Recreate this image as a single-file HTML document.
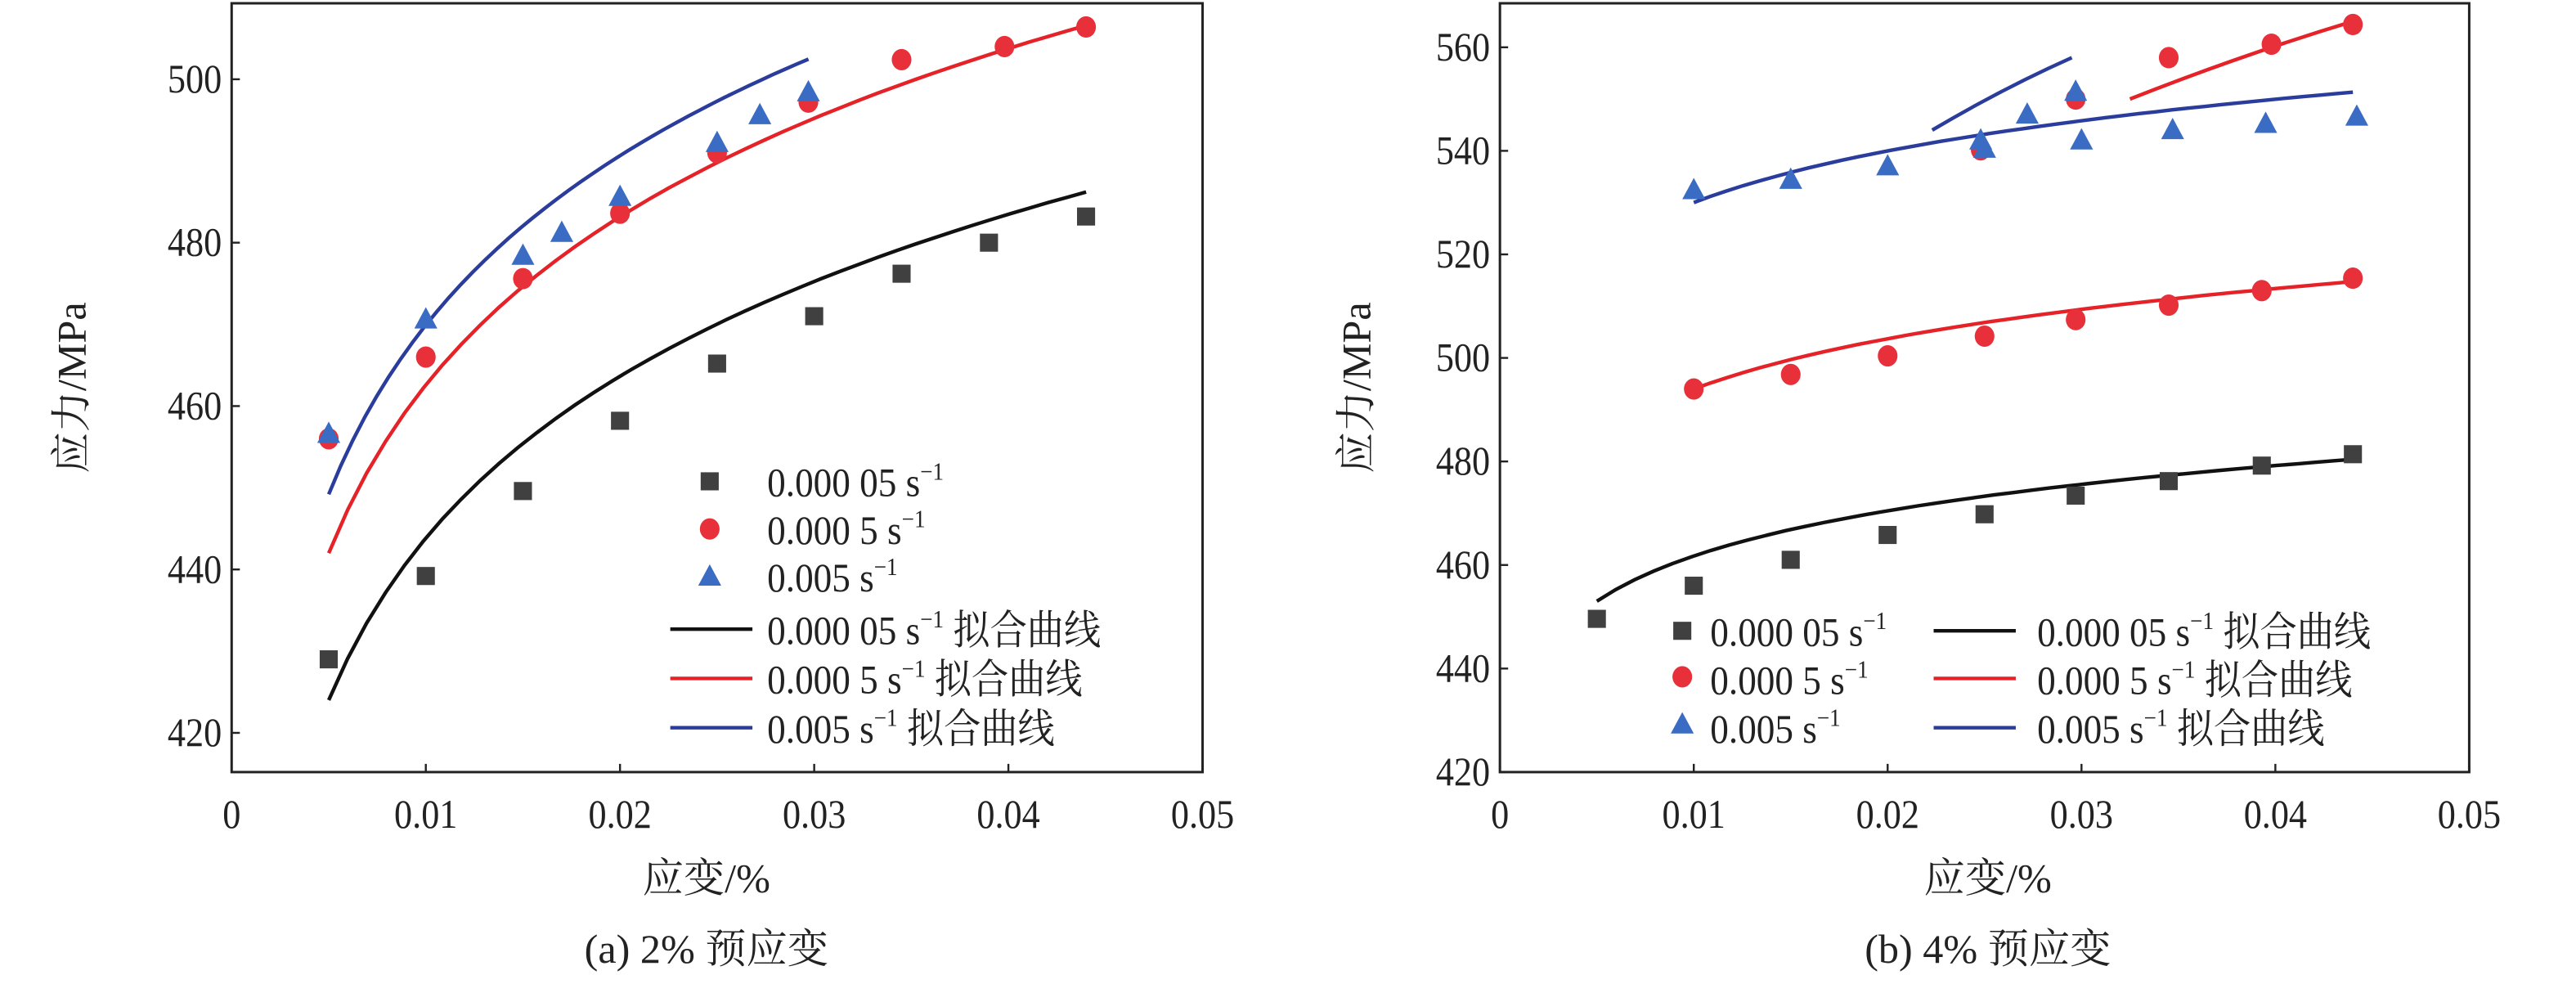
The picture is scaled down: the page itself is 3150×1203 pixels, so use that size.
<!DOCTYPE html>
<html><head><meta charset="utf-8"><style>
html,body{margin:0;padding:0;background:#fff;}
svg{display:block;}
text{font-family:"Liberation Serif","Noto Serif CJK SC","Noto Sans CJK SC",serif;fill:#222;}
</style></head><body>
<svg id="s" width="3150" height="1203" viewBox="0 0 1568 599" preserveAspectRatio="none" xmlns="http://www.w3.org/2000/svg"></svg>
<script>
const S=document.getElementById('s');let h='';
const FS=25;
function P(x0,x1,yTop,yBot,vBot,vTop){return{X:x=>x0+(x1-x0)*x/0.05,Y:v=>yBot-(yBot-yTop)*(v-vBot)/(vTop-vBot)};}
const L=P(141,732,2,470,415.2,509.3);
const R=P(913,1503,2,470,420,568.5);
function T(x,y,s,anchor,extra){return `<text transform="translate(${x},${y}) scale(0.88,1)" font-size="${FS}" text-anchor="${anchor||'start'}" ${extra||''}>${s}</text>`;}
function axes(p,x0,x1,ticks){
 h+=`<rect x="${x0}" y="2" width="${x1-x0}" height="468" fill="none" stroke="#222" stroke-width="1.5"/>`;
 for(let i=0;i<=5;i++){const x=p.X(i*0.01);h+=`<line x1="${x}" y1="470" x2="${x}" y2="465" stroke="#222" stroke-width="1.2"/>`;
  h+=T(x,504,i==0?'0':(i*0.01).toFixed(2),'middle');}
 ticks.forEach(v=>{const y=p.Y(v);h+=`<line x1="${x0}" y1="${y}" x2="${x0+5}" y2="${y}" stroke="#222" stroke-width="1.2"/>`;
  h+=T(x0-6,y+8,v,'end');});
}
function sq(x,y){h+=`<rect x="${x-5.5}" y="${y-5.5}" width="11" height="11" fill="#404040"/>`;}
function ci(x,y){h+=`<ellipse cx="${x}" cy="${y}" rx="6" ry="6.5" fill="#e8303a"/>`;}
function tr(x,y){h+=`<polygon points="${x},${y-7.5} ${x+7},${y+5.5} ${x-7},${y+5.5}" fill="#3a6cc4"/>`;}
function curve(p,a,b,x1,x2,c){let d='';for(let i=0;i<=40;i++){const x=x1+(x2-x1)*i/40;d+=(i?'L':'M')+p.X(x).toFixed(1)+','+p.Y(a+b*Math.log(x/x1)).toFixed(1);}
 h+=`<path d="${d}" fill="none" stroke="${c}" stroke-width="2.2"/>`;}
function seg(p,xa,ya,xb,yb,c){h+=`<path d="M${p.X(xa)},${p.Y(ya)} Q${p.X((xa+xb)/2)},${p.Y((ya+yb)/2+1)} ${p.X(xb)},${p.Y(yb)}" fill="none" stroke="${c}" stroke-width="2.2"/>`;}
const sup='<tspan font-size="15" dy="-10">−1</tspan>';
function leg(x,y,t,fit){return `<text transform="translate(${x},${y}) scale(0.9,1)" font-size="${FS}">${t}${sup}${fit?'<tspan dy="10"> 拟合曲线</tspan>':''}</text>`;}
// Left
axes(L,141,732,[420,440,460,480,500]);
curve(L,424,28.6,0.005,0.044,'#111');
curve(L,442,29.7,0.005,0.044,'#e52228');
curve(L,449.2,29.9,0.005,0.0297,'#2a3d9c');
[[0.005,429],[0.01,439.2],[0.015,449.6],[0.02,458.2],[0.025,465.2],[0.03,471],[0.0345,476.2],[0.039,480],[0.044,483.2]].forEach(d=>sq(L.X(d[0]),L.Y(d[1])));
[[0.005,456],[0.01,466],[0.015,475.6],[0.02,483.6],[0.025,491],[0.0297,497.2],[0.0345,502.4],[0.0398,504],[0.044,506.4]].forEach(d=>ci(L.X(d[0]),L.Y(d[1])));
[[0.005,456.6],[0.01,470.6],[0.015,478.4],[0.017,481.2],[0.02,485.6],[0.025,492.2],[0.0272,495.6],[0.0297,498.4]].forEach(d=>tr(L.X(d[0]),L.Y(d[1])));
sq(432,293);ci(432,322);tr(432,351);
h+=`<line x1="408" y1="383" x2="458" y2="383" stroke="#111" stroke-width="2.2"/><line x1="408" y1="413" x2="458" y2="413" stroke="#e52228" stroke-width="2.2"/><line x1="408" y1="443" x2="458" y2="443" stroke="#2a3d9c" stroke-width="2.2"/>`;
const lt=['0.000 05 s','0.000 5 s','0.005 s'];
lt.forEach((t,i)=>{h+=leg(467,302+i*29,t,false);});
lt.forEach((t,i)=>{h+=leg(467,392+i*30,t,true);});
h+=`<text transform="translate(52,236) rotate(-90)" font-size="${FS}" text-anchor="middle">应力/MPa</text>`;
h+=`<text x="430" y="543" font-size="${FS}" text-anchor="middle">应变/%</text>`;
h+=`<text x="430" y="586" font-size="${FS}" text-anchor="middle">(a) 2% 预应变</text>`;
// Right
axes(R,913,1503,[420,440,460,480,500,520,540,560]);
curve(R,453,12.6,0.005,0.044,'#111');
curve(R,494,14.0,0.01,0.044,'#e52228');
curve(R,530,14.4,0.01,0.044,'#2a3d9c');
seg(R,0.0325,550,0.044,565,'#e52228');
seg(R,0.0223,544,0.0295,558,'#2a3d9c');
[[0.005,449.6],[0.01,456],[0.015,461],[0.02,465.8],[0.025,469.8],[0.0297,473.4],[0.0345,476.2],[0.0393,479.2],[0.044,481.4]].forEach(d=>sq(R.X(d[0]),R.Y(d[1])));
[[0.01,494],[0.015,496.8],[0.02,500.4],[0.025,504.2],[0.0297,507.4],[0.0345,510.2],[0.0393,513],[0.044,515.4],[0.0297,550],[0.0345,558],[0.0398,560.6],[0.044,564.4],[0.0248,540.2]].forEach(d=>ci(R.X(d[0]),R.Y(d[1])));
[[0.01,532.4],[0.015,534.4],[0.02,537],[0.0248,542],[0.025,540.4],[0.0272,547],[0.0297,551.4],[0.03,542],[0.0347,544],[0.0395,545.2],[0.0442,546.6]].forEach(d=>tr(R.X(d[0]),R.Y(d[1])));
sq(1024,384);ci(1024,412);tr(1024,441);
h+=`<line x1="1177" y1="384" x2="1227" y2="384" stroke="#111" stroke-width="2.2"/><line x1="1177" y1="413" x2="1227" y2="413" stroke="#e52228" stroke-width="2.2"/><line x1="1177" y1="443" x2="1227" y2="443" stroke="#2a3d9c" stroke-width="2.2"/>`;
lt.forEach((t,i)=>{h+=leg(1041,393+i*29.5,t,false);});
lt.forEach((t,i)=>{h+=leg(1240,393+i*29.5,t,true);});
h+=`<text transform="translate(834,236) rotate(-90)" font-size="${FS}" text-anchor="middle">应力/MPa</text>`;
h+=`<text x="1210" y="543" font-size="${FS}" text-anchor="middle">应变/%</text>`;
h+=`<text x="1210" y="586" font-size="${FS}" text-anchor="middle">(b) 4% 预应变</text>`;
S.innerHTML=h;
</script>
</body></html>
